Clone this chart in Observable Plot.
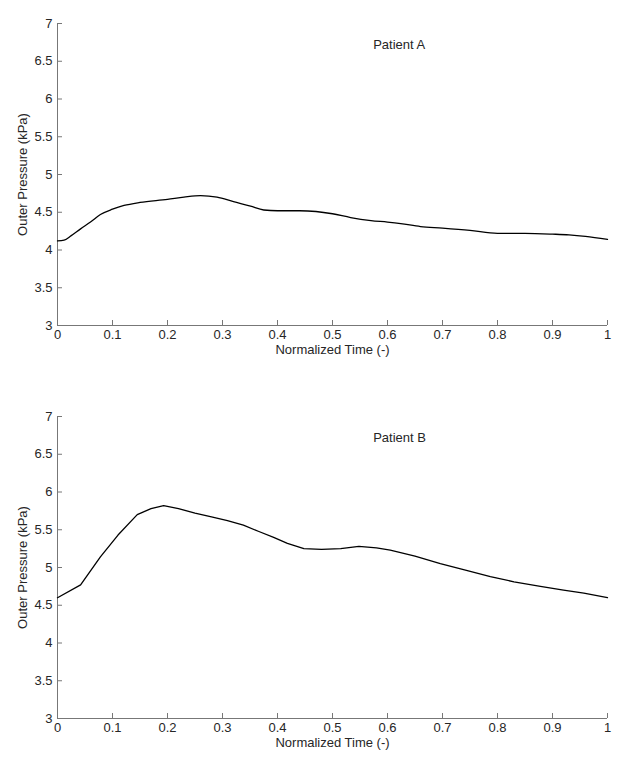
<!DOCTYPE html>
<html>
<head>
<meta charset="utf-8">
<script src="https://cdn.jsdelivr.net/npm/d3@7"></script>
<script src="https://cdn.jsdelivr.net/npm/@observablehq/plot@0.6"></script>
<style>
  body { margin: 0; background: white; }
  #chart svg { display: block; }
</style>
</head>
<body>
<div id="chart"></div>
<script>
// ---- data ----
const xTicks = [0, 0.1, 0.2, 0.3, 0.4, 0.5, 0.6, 0.7, 0.8, 0.9, 1];
const yTicks = [3, 3.5, 4, 4.5, 5, 5.5, 6, 6.5, 7];

const timeA = [0, 0.012, 0.025, 0.042, 0.06, 0.078, 0.1, 0.121, 0.15, 0.2, 0.23, 0.26, 0.29, 0.32, 0.351, 0.375, 0.4, 0.44, 0.47, 0.5, 0.533, 0.57, 0.6, 0.624, 0.66, 0.7, 0.75, 0.8, 0.85, 0.9, 0.93, 0.96, 1.0];
const pressA = [4.12, 4.13, 4.19, 4.28, 4.37, 4.47, 4.54, 4.59, 4.63, 4.67, 4.70, 4.72, 4.70, 4.64, 4.58, 4.53, 4.52, 4.52, 4.51, 4.48, 4.43, 4.39, 4.37, 4.35, 4.31, 4.29, 4.26, 4.22, 4.22, 4.21, 4.20, 4.18, 4.14];

const timeB = [0, 0.042, 0.078, 0.11, 0.145, 0.17, 0.193, 0.22, 0.25, 0.28, 0.309, 0.338, 0.365, 0.393, 0.418, 0.448, 0.48, 0.515, 0.548, 0.58, 0.605, 0.65, 0.696, 0.74, 0.787, 0.83, 0.878, 0.92, 0.957, 1.0];
const pressB = [4.60, 4.77, 5.14, 5.43, 5.70, 5.78, 5.82, 5.78, 5.72, 5.67, 5.62, 5.56, 5.48, 5.40, 5.32, 5.25, 5.24, 5.25, 5.28, 5.26, 5.23, 5.15, 5.05, 4.97, 4.88, 4.81, 4.75, 4.70, 4.66, 4.60];

const xLabel = "Normalized Time (-)";
const yLabel = "Outer Pressure (kPa)";
const titles = ["Patient A", "Patient B"];

// ---- drawing ----
const axisColor = "#777";
const textColor = "#262626";
const fs = 13;
const fmt = d3.format("~g");

function panel(xs, ys, title, height, marginTop, marginBottom, curve) {
  const data = xs.map((x, i) => ({x, y: ys[i]}));
  return Plot.plot({
    width: 624,
    height,
    marginTop,
    marginBottom,
    marginLeft: 57,
    marginRight: 17,
    x: {domain: [0, 1]},
    y: {domain: [3, 7]},
    style: {fontFamily: "'Liberation Sans', Arial, sans-serif", fontSize: "13px", color: textColor, background: "white"},
    marks: [
      Plot.axisX({ticks: xTicks, tickSize: 0, tickPadding: 4, tickFormat: fmt, label: null, fontSize: fs, fill: textColor}),
      Plot.axisY({ticks: yTicks, tickSize: 0, tickPadding: 5, tickFormat: fmt, label: null, fontSize: fs, fill: textColor}),
      Plot.tickX(xTicks, {x: d => d, insetTop: 297, stroke: axisColor}),
      Plot.tickY(yTicks, {y: d => d, insetRight: 545, stroke: axisColor}),
      Plot.ruleX([0], {stroke: axisColor}),
      Plot.ruleY([3], {stroke: axisColor}),
      Plot.line(data, {x: "x", y: "y", curve, stroke: "black", strokeWidth: 1.3}),
      Plot.text([title], {x: 0.574, y: 6.72, textAnchor: "start", fill: textColor, fontSize: fs}),
      Plot.text([xLabel], {frameAnchor: "bottom", textAnchor: "middle", lineAnchor: "middle", dy: 24, fill: textColor, fontSize: fs}),
      Plot.text([yLabel], {frameAnchor: "left", textAnchor: "middle", lineAnchor: "middle", dx: -35, rotate: -90, fill: textColor, fontSize: fs})
    ]
  });
}

const chart = document.getElementById("chart");
chart.appendChild(panel(timeA, pressA, titles[0], 380, 23, 55, "monotone-x"));
chart.appendChild(panel(timeB, pressB, titles[1], 383, 36, 45, "linear"));
</script>
</body>
</html>
